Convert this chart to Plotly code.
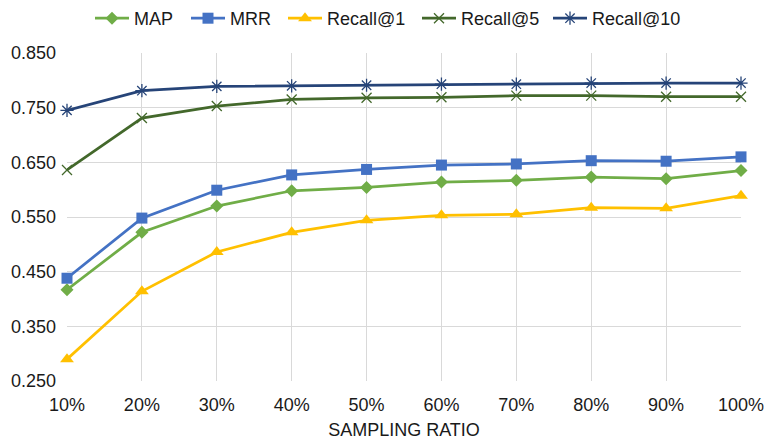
import plotly.graph_objects as go

ratios = [10, 20, 30, 40, 50, 60, 70, 80, 90, 100]
ratio_labels = ["10%", "20%", "30%", "40%", "50%", "60%", "70%", "80%", "90%", "100%"]

map_vals = [0.417, 0.522, 0.570, 0.598, 0.604, 0.614, 0.617, 0.623, 0.620, 0.635]
mrr_vals = [0.438, 0.548, 0.599, 0.627, 0.637, 0.645, 0.647, 0.653, 0.652, 0.660]
recall1_vals = [0.290, 0.414, 0.486, 0.522, 0.544, 0.553, 0.555, 0.567, 0.566, 0.589]
recall5_vals = [0.636, 0.731, 0.753, 0.765, 0.768, 0.769, 0.772, 0.772, 0.770, 0.770]
recall10_vals = [0.745, 0.781, 0.789, 0.790, 0.791, 0.793, 0.793, 0.795, 0.795, 0.795]

y_ticks = [0.25, 0.35, 0.45, 0.55, 0.65, 0.75, 0.85]

# name, values, colour, marker symbol, marker size, marker outline width, legend x (px)
series = [
    ("MAP", map_vals, "#70AD47", "diamond", 10, 0, 90),
    ("MRR", mrr_vals, "#4472C4", "square", 11, 0, 186),
    ("Recall@1", recall1_vals, "#FFC000", "triangle-up", 12, 0, 283),
    ("Recall@5", recall5_vals, "#43682B", "x-thin-open", 10, 1.3, 417),
    ("Recall@10", recall10_vals, "#264478", "asterisk-open", 11, 1.3, 548),
]

font_family = "Liberation Sans, Arial, sans-serif"
text_color = "#1a1a1a"
W, H = 766, 442

fig = go.Figure()
legend_layout = {}
for i, (name, vals, color, symbol, size, mlw, lx) in enumerate(series):
    marker = dict(symbol=symbol, size=size, color=color)
    if mlw:
        marker["line"] = dict(color=color, width=mlw)
    legend_id = "legend" if i == 0 else f"legend{i + 1}"
    fig.add_trace(go.Scatter(
        x=ratios, y=vals, name=name, mode="lines+markers",
        line=dict(color=color, width=2.75),
        marker=marker, cliponaxis=False, legend=legend_id,
    ))
    legend_layout[legend_id] = dict(
        orientation="h", x=lx / W, xanchor="left", xref="container",
        y=1.0, yanchor="top", yref="container",
        font=dict(size=18, color=text_color),
        itemwidth=34, bgcolor="rgba(0,0,0,0)",
    )

fig.update_layout(
    width=W, height=H,
    margin=dict(l=67, r=25, t=53, b=61),
    paper_bgcolor="white", plot_bgcolor="white",
    font=dict(family=font_family, size=18, color=text_color),
    showlegend=True,
    xaxis=dict(
        range=[10, 100], tickvals=ratios, ticktext=ratio_labels,
        showgrid=True, gridcolor="#D9D9D9", gridwidth=1.3,
        zeroline=False, showline=False, ticks="", automargin=False,
        tickfont=dict(size=18, color=text_color),
        ticklabelstandoff=11,
        title=dict(text="SAMPLING RATIO", font=dict(size=18, color=text_color), standoff=9),
    ),
    yaxis=dict(
        range=[0.25, 0.85], tickvals=y_ticks, tickformat=".3f",
        showgrid=True, gridcolor="#D9D9D9", gridwidth=1.3,
        zeroline=False, showline=False, ticks="", automargin=False,
        tickfont=dict(size=18, color=text_color),
        ticklabelstandoff=10,
    ),
    **legend_layout,
)

fig.write_html("out.html")
